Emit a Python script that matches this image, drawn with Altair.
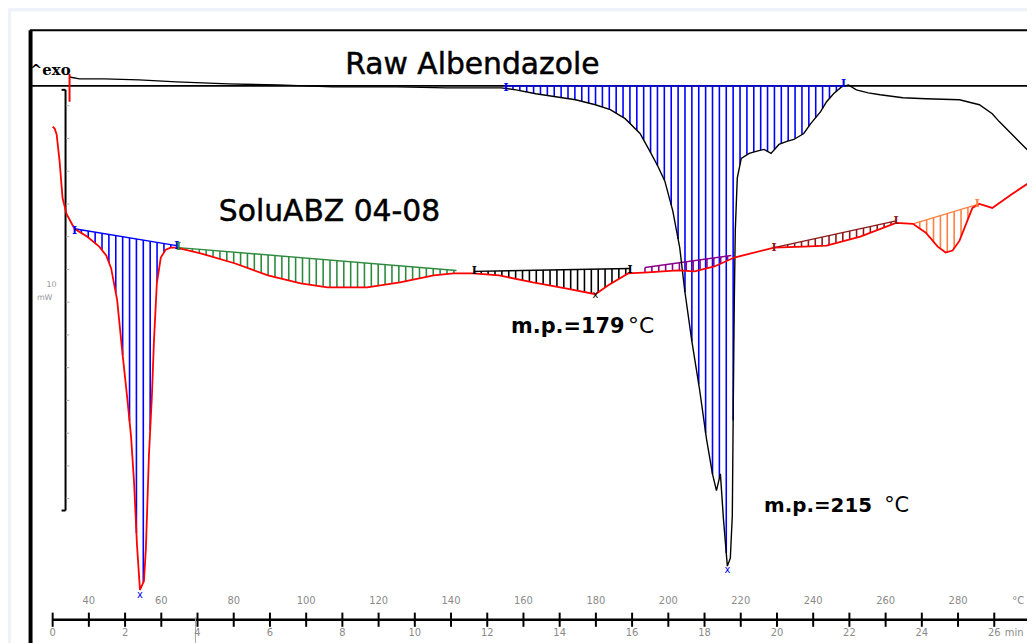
import altair as alt
import numpy as np
import pandas as pd

# ---------------- data (time in min, heat flow in mW, relative) ----------------
raw_t = [0.466, 0.740, 1.425, 2.384, 3.425, 4.849, 6.219, 7.726, 9.507, 10.877, 12.384,
         12.795, 13.342, 13.890, 14.438, 14.986, 15.397, 15.808, 16.219, 16.493, 16.712,
         16.904, 17.123, 17.315, 17.452, 17.644, 17.863, 18.055, 18.219, 18.329, 18.438,
         18.521, 18.630, 18.712, 18.767, 18.795, 18.822, 18.849, 18.904, 19.014, 19.233,
         19.425, 19.644, 19.836, 20.055, 20.274, 20.466, 20.740, 20.932, 21.205, 21.370,
         21.562, 21.781, 21.973, 22.192, 22.521, 22.849, 23.479, 24.110, 25.041, 25.589,
         25.945, 26.137, 26.493, 26.904, 27.18]
raw_v = [0.214, 0.167, 0.167, 0.143, 0.095, 0.048, 0.024, -0.024, -0.024, -0.048, -0.048,
         -0.095, -0.190, -0.262, -0.333, -0.452, -0.571, -0.786, -1.143, -1.571, -1.929,
         -2.286, -3.000, -3.881, -4.905, -6.095, -7.286, -8.476, -9.310, -9.714, -9.310,
         -10.381, -11.524, -11.333, -10.310, -7.524, -5.143, -3.476, -2.214, -1.738, -1.619,
         -1.571, -1.524, -1.619, -1.405, -1.333, -1.286, -1.143, -0.905, -0.619, -0.381,
         -0.190, -0.024, 0.024, -0.095, -0.167, -0.214, -0.286, -0.310, -0.333, -0.452,
         -0.667, -0.857, -1.167, -1.524, -1.762]

sol_t = [0.000, 0.055, 0.110, 0.192, 0.274, 0.384, 0.603, 0.959, 1.288, 1.479, 1.616,
         1.781, 1.918, 2.055, 2.164, 2.247, 2.329, 2.411, 2.521, 2.575, 2.658, 2.740,
         2.795, 2.877, 2.986, 3.123, 3.260, 3.425, 4.110, 5.041, 5.945, 6.849, 7.589,
         8.685, 9.589, 10.521, 11.068, 11.616, 12.329, 13.260, 14.164, 14.986, 15.342,
         15.890, 16.438, 17.260, 17.726, 18.274, 18.822, 19.918, 20.740, 21.370, 22.301,
         23.288, 23.753, 24.110, 24.438, 24.658, 24.849, 25.041, 25.397, 25.589, 25.945,
         26.493, 26.904, 27.18]
sol_v = [-0.976, -1.024, -1.167, -1.810, -2.690, -3.071, -3.429, -3.619, -3.857, -4.071, -4.381,
         -5.143, -6.333, -7.452, -8.405, -9.500, -11.024, -12.095, -11.881, -11.095, -8.881, -7.452,
         -6.167, -4.738, -4.119, -3.929, -3.881, -3.881, -4.024, -4.262, -4.548, -4.738, -4.833,
         -4.833, -4.714, -4.548, -4.500, -4.500, -4.548, -4.714, -4.857, -5.000, -4.786,
         -4.500, -4.476, -4.429, -4.452, -4.333, -4.119, -3.881, -3.857, -3.833, -3.619,
         -3.286, -3.310, -3.524, -3.857, -4.000, -3.952, -3.714, -2.929, -2.833, -2.929,
         -2.595, -2.357, -2.20]

# short red trace at the start (top left)
spike_t = [0.466, 0.466]
spike_v = [0.286, -0.381]

# integration regions
reg_curve = ["raw", "sol", "sol", "sol", "sol", "sol", "sol"]
reg_t0 = [12.52, 0.603, 3.479, 11.644, 16.356, 19.918, 23.753]
reg_t1 = [21.84, 3.425, 11.151, 15.945, 18.740, 23.288, 25.589]
reg_b0 = [0.0, -3.429, -3.881, -4.452, -4.357, -3.881, -3.310]
reg_b1 = [0.0, -3.833, -4.429, -4.381, -4.071, -3.238, -2.833]
reg_color = ["#0000ff", "#0000ff", "#2e8b3e", "#000000", "#8b008b", "#8b1a1a", "#ff8040"]

# markers
mk_t = [0.603, 3.425, 3.479, 11.644, 15.945, 19.918, 23.288, 25.534, 21.836, 12.52]
mk_v = [-3.476, -3.833, -3.857, -4.452, -4.429, -3.881, -3.238, -2.833, 0.048, -0.05]
mk_c = ["#0000ff", "#0000ff", "#2e8b3e", "#000000", "#000000", "#8b1a1a", "#8b1a1a",
        "#ff8040", "#0000ff", "#0000ff"]
pk_t = [2.411, 18.63, 14.986]
pk_v = [-12.21, -11.62, -5.02]
pk_c = ["#0000ff", "#0000ff", "#000000"]

# axis labels
min_ticks = list(range(0, 27))
min_labels = [0, 2, 4, 6, 8, 10, 12, 14, 16, 18, 20, 22, 24, 26]
temp_labels = [40, 60, 80, 100, 120, 140, 160, 180, 200, 220, 240, 260, 280]

# ---------------- scales ----------------
xs = alt.Scale(domain=[-1.2329, 26.904], nice=False, zero=False)
ys = alt.Scale(domain=[-13.3095, 1.8095], nice=False, zero=False)
X = lambda f="t": alt.X(f"{f}:Q", scale=xs, axis=None)
Y = lambda f="v": alt.Y(f"{f}:Q", scale=ys, axis=None)

layers = []

# white panel
panel = pd.DataFrame({"t": [-1.151], "t2": [28], "v": [1.786], "v2": [-14]})
layers.append(alt.Chart(panel).mark_rect(color="white").encode(
    x=X(), x2="t2", y=Y(), y2="v2"))

# frame lines
frame = pd.DataFrame({
    "t": [-0.63, -0.63, -0.61],
    "t2": [28, 28, -0.61],
    "v": [1.333, 0.0, 1.333],
    "v2": [1.333, 0.0, -14],
    "w": [2, 2, 4],
})
layers.append(alt.Chart(frame).mark_rule(color="black").encode(
    x=X(), x2="t2", y=Y(), y2="v2", strokeWidth=alt.StrokeWidth("w:Q", scale=None)))

# scale bar
bar = pd.DataFrame({"t": [0.356, 0.247, 0.247], "t2": [0.356, 0.356, 0.356],
                    "v": [-0.095, -0.095, -10.19], "v2": [-10.19, -0.095, -10.19]})
layers.append(alt.Chart(bar).mark_rule(color="black", strokeWidth=2).encode(
    x=X(), x2="t2", y=Y(), y2="v2"))
bt = pd.DataFrame({"v": [(84 - (104 + 33 * k)) / 42 for k in range(13)]})
bt["t"] = 0.37
bt["t2"] = 0.46
layers.append(alt.Chart(bt).mark_rule(color="#aaaaaa", strokeWidth=1).encode(
    x=X(), x2="t2", y=Y()))
layers.append(alt.Chart(pd.DataFrame({"t": [-0.03, -0.22], "v": [-4.79, -5.10],
                                      "label": ["10", "mW"]}))
              .mark_text(font="DejaVu Sans", fontSize=8, color="#999999", baseline="middle")
              .encode(x=X(), y=Y(), text="label:N"))

# hatches
curves = {"raw": (raw_t, raw_v), "sol": (sol_t, sol_v)}
hrows, brows = [], []
for i in range(len(reg_curve)):
    ct, cv = curves[reg_curve[i]]
    ts = np.arange(reg_t0[i], reg_t1[i] + 1e-9, 0.19)
    base = np.interp(ts, [reg_t0[i], reg_t1[i]], [reg_b0[i], reg_b1[i]])
    cur = np.interp(ts, ct, cv)
    for a, b, c in zip(ts, base, cur):
        hrows.append({"t": a, "v": b, "v2": c, "col": reg_color[i]})
    brows.append({"t": reg_t0[i], "t2": reg_t1[i], "v": reg_b0[i], "v2": reg_b1[i],
                  "col": reg_color[i]})
hatch = pd.DataFrame(hrows)
layers.append(alt.Chart(hatch).mark_rule(strokeWidth=1.6).encode(
    x=X(), y=Y(), y2="v2", color=alt.Color("col:N", scale=None)))
basel = pd.DataFrame(brows)
layers.append(alt.Chart(basel).mark_rule(strokeWidth=1.4).encode(
    x=X(), x2="t2", y=Y(), y2="v2", color=alt.Color("col:N", scale=None)))

# curves
raw_df = pd.DataFrame({"t": raw_t, "v": raw_v, "o": range(len(raw_t))})
sol_df = pd.DataFrame({"t": sol_t, "v": sol_v, "o": range(len(sol_t))})
spike_df = pd.DataFrame({"t": spike_t, "v": spike_v, "o": [0, 1]})
layers.append(alt.Chart(raw_df).mark_line(color="black", strokeWidth=1.4).encode(
    x=X(), y=Y(), order="o:Q"))
layers.append(alt.Chart(sol_df).mark_line(color="#ff0000", strokeWidth=1.8).encode(
    x=X(), y=Y(), order="o:Q"))
layers.append(alt.Chart(spike_df).mark_line(color="#ff0000", strokeWidth=2).encode(
    x=X(), y=Y(), order="o:Q"))

# markers
mk = pd.DataFrame({"t": mk_t, "v": mk_v, "col": mk_c, "label": "I"})
layers.append(alt.Chart(mk).mark_text(font="DejaVu Serif", fontWeight="bold", fontSize=11,
                                      baseline="middle").encode(
    x=X(), y=Y(), text="label:N", color=alt.Color("col:N", scale=None)))
pk = pd.DataFrame({"t": pk_t, "v": pk_v, "col": pk_c, "label": "x"})
layers.append(alt.Chart(pk).mark_text(font="DejaVu Sans", fontSize=10,
                                      baseline="middle").encode(
    x=X(), y=Y(), text="label:N", color=alt.Color("col:N", scale=None)))

# x axis (drawn)
axl = pd.DataFrame({"t": [0.0], "t2": [28], "v": [-12.81]})
layers.append(alt.Chart(axl).mark_rule(color="black", strokeWidth=2.5).encode(
    x=X(), x2="t2", y=Y()))
tk = pd.DataFrame({"t": min_ticks})
tk["v"] = -12.64
tk["v2"] = -12.98
layers.append(alt.Chart(tk).mark_rule(color="black", strokeWidth=2).encode(
    x=X(), y=Y(), y2="v2"))
layers.append(alt.Chart(pd.DataFrame({"t": [3.945], "v": [-12.75], "v2": [-14]}))
              .mark_rule(color="#aaaaaa", strokeWidth=1).encode(x=X(), y=Y(), y2="v2"))
ml = pd.DataFrame({"t": min_labels, "label": [str(m) for m in min_labels]})
ml["v"] = -13.14
layers.append(alt.Chart(ml).mark_text(font="DejaVu Sans", fontSize=10, color="#8a8a8a",
                                      baseline="middle").encode(
    x=X(), y=Y(), text="label:N"))
tl = pd.DataFrame({"t": [(T - 30) / 10 for T in temp_labels],
                   "label": [str(T) for T in temp_labels]})
tl["v"] = -12.36
layers.append(alt.Chart(tl).mark_text(font="DejaVu Sans", fontSize=10, color="#8a8a8a",
                                      baseline="middle").encode(
    x=X(), y=Y(), text="label:N"))
unit = pd.DataFrame({"t": [26.55, 26.66], "v": [-13.14, -12.36], "label": ["min", "°C"]})
layers.append(alt.Chart(unit).mark_text(font="DejaVu Sans", fontSize=10, color="#8a8a8a",
                                        baseline="middle").encode(
    x=X(), y=Y(), text="label:N"))

# annotations
def note(t, v, label, **kw):
    return alt.Chart(pd.DataFrame({"t": [t], "v": [v], "label": [label]})).mark_text(
        baseline="alphabetic", color="black", **kw).encode(x=X(), y=Y(), text="label:N")

layers.append(note(11.589, 0.286, "Raw Albendazole", font="DejaVu Sans", fontSize=30,
                   align="center", stroke="black", strokeWidth=0.5))
layers.append(note(7.644, -3.238, "SoluABZ 04-08", font="DejaVu Sans", fontSize=30,
                   align="center", stroke="black", strokeWidth=0.5))
layers.append(note(12.658, -5.928, "m.p.=179", font="DejaVu Sans", fontWeight="bold",
                   fontSize=21, align="left"))
layers.append(note(15.890, -5.928, "°C", font="DejaVu Sans", fontSize=22, align="left"))
layers.append(note(19.644, -10.214, "m.p.=215", font="DejaVu Sans", fontWeight="bold",
                   fontSize=20, align="left"))
layers.append(note(22.96, -10.214, "°C", font="DejaVu Sans", fontSize=21, align="left"))
layers.append(note(-0.63, 0.262, "^exo", font="DejaVu Serif", fontWeight="bold",
                   fontSize=15, align="left"))

chart = alt.layer(*layers).properties(
    width=1027, height=635, autosize=alt.AutoSizeParams(type="none"), padding=0,
    background="#eef3fb",
).configure_view(stroke=None)

chart.save("out.html", embed_options={"renderer": "svg", "actions": False})
